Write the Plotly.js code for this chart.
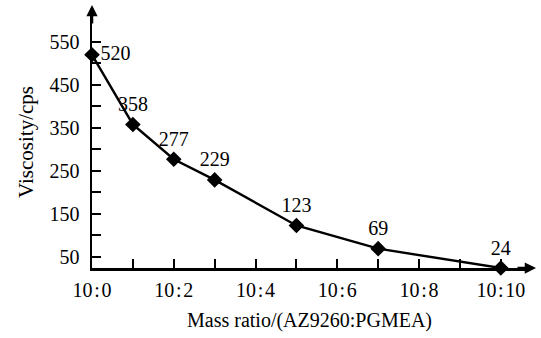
<!DOCTYPE html>
<html>
<head>
<meta charset="utf-8">
<script src="https://cdn.plot.ly/plotly-3.0.1.min.js"></script>
<style>html,body{margin:0;padding:0;background:#fff;}#chart{width:541px;height:338px;}</style>
</head>
<body>
<div id="chart"></div>
<script>
// Data
const ratioX = [0, 1, 2, 3, 5, 7, 10];           // PGMEA parts per 10 AZ9260
const viscosity = [520, 358, 277, 229, 123, 69, 24];
const valueLabels = ['520', '358', '277', '229', '123', '69', '24'];
const xTickVals = [0, 2, 4, 6, 8, 10];
const xTickText = ['10\u200A:\u200A0', '10\u200A:\u200A2', '10\u200A:\u200A4', '10\u200A:\u200A6', '10\u200A:\u200A8', '10\u200A:\u200A10'];
const yTickVals = [50, 150, 250, 350, 450, 550];

const serif = 'Liberation Serif, Times New Roman, serif';

const trace = {
  x: ratioX,
  y: viscosity,
  mode: 'lines+markers+text',
  type: 'scatter',
  text: valueLabels,
  textposition: ['middle right', 'top center', 'top center', 'top center', 'top center', 'top center', 'top center'],
  textfont: {family: serif, size: 20, color: '#000'},
  line: {color: '#000', width: 2.4},
  marker: {symbol: 'diamond', size: 12, color: '#000'},
  cliponaxis: false,
  hoverinfo: 'none'
};

const layout = {
  width: 541, height: 338,
  margin: {l: 92, r: 14, t: 16, b: 70},
  paper_bgcolor: '#fff', plot_bgcolor: '#fff',
  showlegend: false,
  font: {family: serif, size: 20, color: '#000'},
  xaxis: {
    range: [0, 10.64],
    tickmode: 'array', tickvals: xTickVals, ticktext: xTickText,
    ticks: 'inside', ticklen: 9, tickwidth: 2, tickcolor: '#000',
    minor: {tickmode: 'array', tickvals: [1, 3, 5, 7, 9], ticks: 'inside', ticklen: 9, tickwidth: 2, tickcolor: '#000'},
    showline: true, linecolor: '#000', linewidth: 2.5,
    showgrid: false, zeroline: false,
    tickfont: {family: serif, size: 20, color: '#000'},
    ticklabelstandoff: 2,
    title: {text: 'Mass ratio/(AZ9260:PGMEA)', font: {family: serif, size: 20, color: '#000'}, standoff: 14}
  },
  yaxis: {
    range: [24, 610.3],
    tickmode: 'array', tickvals: yTickVals,
    ticks: 'inside', ticklen: 9, tickwidth: 2, tickcolor: '#000',
    minor: {tickmode: 'array', tickvals: [100, 200, 300, 400, 500], ticks: 'inside', ticklen: 9, tickwidth: 2, tickcolor: '#000'},
    showline: true, linecolor: '#000', linewidth: 2.5,
    showgrid: false, zeroline: false,
    tickfont: {family: serif, size: 20, color: '#000'},
    ticklabelstandoff: 6,
    title: {text: 'Viscosity/cps', font: {family: serif, size: 21, color: '#000'}, standoff: 10}
  },
  annotations: [
    {xref: 'x', yref: 'paper', x: 0, y: 1 + 11 / 252, ax: 0, ay: 20, text: '', showarrow: true,
     arrowhead: 2, arrowsize: 0.9, arrowwidth: 2.5, arrowcolor: '#000', standoff: 0},
    {xref: 'paper', yref: 'y', x: 1 + 9 / 435, y: 24, ax: -20, ay: 0, text: '', showarrow: true,
     arrowhead: 2, arrowsize: 0.9, arrowwidth: 2.5, arrowcolor: '#000', standoff: 0}
  ]
};

Plotly.newPlot('chart', [trace], layout, {displayModeBar: false, staticPlot: true});
</script>
</body>
</html>
